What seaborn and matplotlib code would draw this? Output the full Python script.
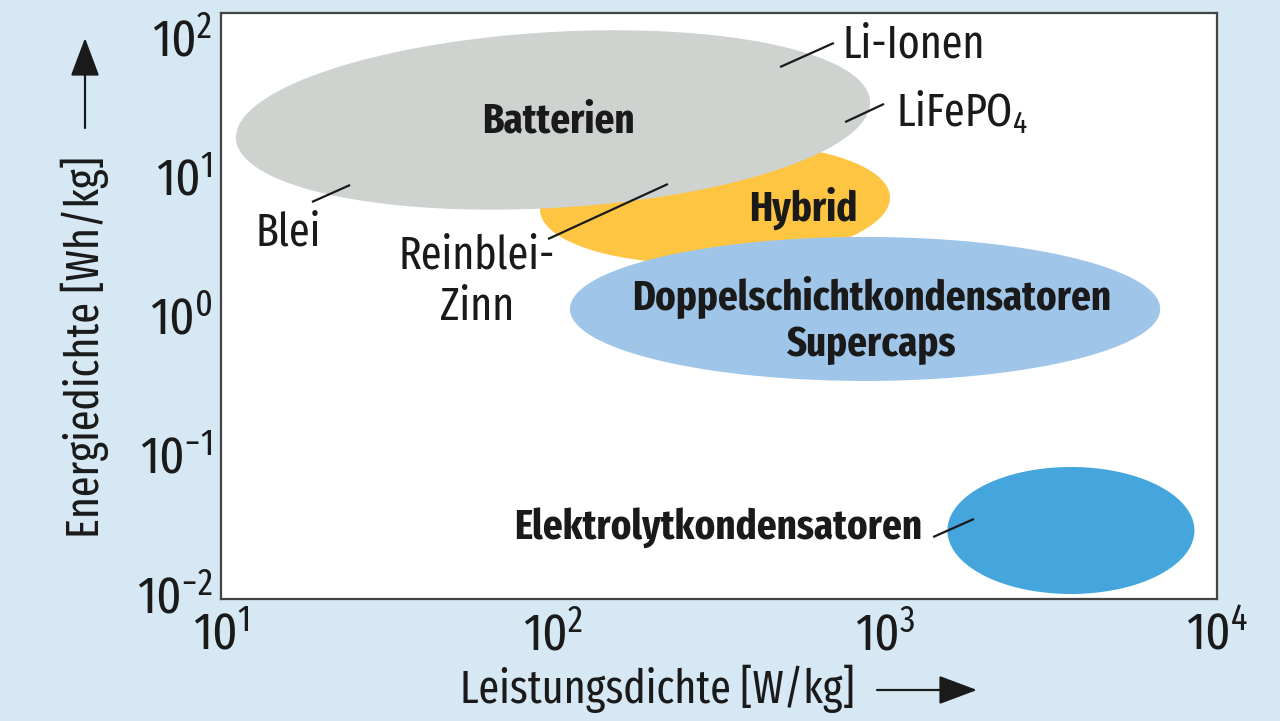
import numpy as np
import matplotlib
matplotlib.use("Agg")
import matplotlib.pyplot as plt
import matplotlib.transforms as mtrans
from matplotlib import font_manager as fm
import seaborn as sns

# ---- data (log10 units) ----
regions = ["Hybrid", "Batterien", "Doppelschicht", "Elektrolyt"]
center_logx = [2.488, 2.000, 2.940, 3.560]
center_logy = [0.840, 1.440, 0.083, -1.508]
half_width_dec = [0.527, 0.955, 0.889, 0.372]
half_height_dec = [0.430, 0.632, 0.517, 0.456]
tilt_slope = [0.08, 0.131, 0.0, 0.0]
colors = ["#fdc541", "#cfd3d0", "#9fc5e8", "#45a5dd"]

x_ticks = [1e1, 1e2, 1e3, 1e4]
x_ticklabels = [r"$10^{1}$", r"$10^{2}$", r"$10^{3}$", r"$10^{4}$"]
y_ticks = [1e-2, 1e-1, 1e0, 1e1, 1e2]
y_ticklabels = [r"$10^{-2}$", r"$10^{-1}$", r"$10^{0}$", r"$10^{1}$", r"$10^{2}$"]

bold_labels = ["Batterien", "Hybrid", "Doppelschichtkondensatoren\nSupercaps", "Elektrolytkondensatoren"]
bold_pos = [(2.015, 1.433), (2.753, 0.808), (2.961, 0.0), (3.111, -1.490)]
bold_ha = ["center", "center", "center", "right"]

leader_labels = ["Li-Ionen", r"LiFePO$_4$", "Blei", "Reinblei-\nZinn"]
leader_text_pos = [(2.873, 1.978), (3.033, 1.490), (1.202, 0.628), (1.771, 0.276)]
leader_ha = ["left", "left", "center", "center"]
leader_lines = [((2.684, 1.820), (2.846, 1.993)),
                ((2.880, 1.425), (2.997, 1.555)),
                ((1.274, 0.851), (1.389, 0.973)),
                ((1.985, 0.585), (2.346, 0.980)),
                ((3.145, -1.555), (3.268, -1.425))]

sns.set_theme(style="white")
available = {f.name for f in fm.fontManager.ttflist}
prefs = ["Fira Sans Extra Condensed", "Fira Sans Condensed", "PT Sans Narrow", "Roboto Condensed",
         "Asap Condensed", "Barlow Semi Condensed", "Archivo Narrow", "DejaVu Sans"]
MAIN = next(p for p in prefs if p in available)
plt.rcParams["font.family"] = [MAIN, "DejaVu Sans"]
plt.rcParams["mathtext.fontset"] = "custom"
plt.rcParams["mathtext.rm"] = MAIN
plt.rcParams["mathtext.it"] = MAIN
plt.rcParams["mathtext.bf"] = MAIN + ":bold"

BG = "#d6e8f3"
TXT = "#1a1a1a"

fig = plt.figure(figsize=(12.8, 7.21), dpi=100, facecolor=BG)
renderer = fig.canvas.get_renderer()

def fit_size(s, target_px, weight="normal"):
    t = fig.text(0, 0, s, fontsize=20, fontweight=weight)
    w = t.get_window_extent(renderer).width
    t.remove()
    return 20 * target_px / w

FS_B = fit_size("Doppelschichtkondensatoren", 480, "bold")
FS = fit_size("Leistungsdichte [W/kg]", 395)
FS_T = fit_size(r"$10^{-1}$", 74)

ax = fig.add_axes([221/1280, 1-599/721, (1217-221)/1280, (599-13)/721])
ax.set_facecolor("white")
ax.set_xscale("log")
ax.set_yscale("log")
ax.set_xlim(1e1, 1e4)
ax.set_ylim(1e-2, 10**2.208)

t = np.linspace(0, 2*np.pi, 400)
for cx, cy, a, b, s, c in zip(center_logx, center_logy, half_width_dec, half_height_dec, tilt_slope, colors):
    lx = cx + a*np.cos(t)
    ly = cy + b*np.sin(t) + s*a*np.cos(t)
    ax.fill(10**lx, 10**ly, color=c, lw=0, zorder=2)

for lab, (px, py), ha in zip(bold_labels, bold_pos, bold_ha):
    ax.text(10**px, 10**py, lab, ha=ha, va="center", fontsize=FS_B, fontweight="bold",
            color=TXT, zorder=5, linespacing=1.15)

for lab, (px, py), ha in zip(leader_labels, leader_text_pos, leader_ha):
    ax.text(10**px, 10**py, lab, ha=ha, va="center", fontsize=FS, color=TXT,
            zorder=5, linespacing=1.2)

for (p0, p1) in leader_lines:
    ax.plot([10**p0[0], 10**p1[0]], [10**p0[1], 10**p1[1]], color=TXT, lw=1.6, zorder=6,
            solid_capstyle="butt")

ax.minorticks_off()
ax.set_xticks(x_ticks)
ax.set_xticklabels(x_ticklabels)
ax.set_yticks(y_ticks)
ax.set_yticklabels(y_ticklabels)
ax.tick_params(axis="both", which="major", direction="in", length=17, width=1.6,
               color="#444444", labelsize=FS_T, labelcolor=TXT)
ax.tick_params(axis="y", pad=6)
ax.tick_params(axis="x", pad=9)
shift_up = mtrans.ScaledTranslation(0, 5/100, fig.dpi_scale_trans)
for lbl in ax.get_yticklabels():
    lbl.set_transform(lbl.get_transform() + shift_up)
for sp in ax.spines.values():
    sp.set_color("#444444")
    sp.set_linewidth(1.6)
    sp.set_visible(True)

fig.text(657/1280, 1-689/721, "Leistungsdichte [W/kg]", ha="center", va="center",
         fontsize=FS, color=TXT)
fig.text(85/1280, 1-347/721, "Energiedichte [Wh/kg]", ha="center", va="center",
         rotation=90, fontsize=FS, color=TXT)

arrow_kw = dict(arrowstyle="-|>,head_length=1.2,head_width=0.45", color=TXT, lw=1.6,
                mutation_scale=20, shrinkA=0, shrinkB=0)
ax.annotate("", xy=(977/1280, 1-690/721), xytext=(877/1280, 1-690/721),
            xycoords="figure fraction", textcoords="figure fraction", arrowprops=arrow_kw,
            annotation_clip=False)
ax.annotate("", xy=(85/1280, 1-38/721), xytext=(85/1280, 1-128/721),
            xycoords="figure fraction", textcoords="figure fraction", arrowprops=arrow_kw,
            annotation_clip=False)

fig.savefig("out.png", dpi=100, facecolor=BG)
